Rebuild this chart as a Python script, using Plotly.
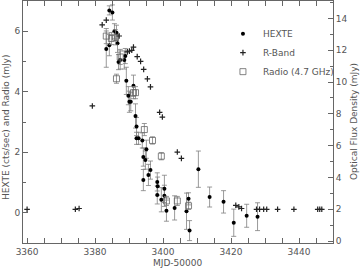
import plotly.graph_objects as go

# HEXTE count rate (left axis)
hexte_mjd = [3383.3, 3384.2, 3385.1, 3384.2, 3385.7, 3386.3, 3386.6, 3386.9, 3387.4, 3388.6,
             3388.9, 3389.2, 3389.8, 3390.1, 3390.5, 3391.3, 3391.9, 3392.2, 3392.2, 3392.8,
             3393.9, 3395.1, 3394.2, 3394.8, 3394.2, 3395.7, 3396.3, 3398.3, 3398.4, 3398.3,
             3399.5, 3400.4, 3400.4, 3401.0, 3403.4, 3406.9, 3407.5, 3407.8, 3410.4, 3413.7,
             3417.8, 3420.8, 3424.6, 3427.8]
hexte_rate = [5.41, 6.69, 6.62, 5.54, 6.00, 5.95, 5.60, 4.98, 5.05, 5.05,
              5.18, 4.36, 3.87, 3.67, 3.67, 4.20, 3.20, 2.85, 2.46, 2.46,
              2.39, 2.10, 1.84, 1.74, 1.08, 1.25, 1.41, 1.02, 0.88, 0.59,
              0.43, 0.79, 0.56, 0.07, 0.16, 0.05, 0.46, -0.59, 1.44, 0.52,
              0.36, -0.33, -0.10, -0.13]
hexte_err = [0.60, 0.15, 0.25, 0.35, 0.25, 0.25, 0.30, 0.25, 0.30, 0.30,
             0.25, 0.45, 0.30, 0.35, 0.30, 0.35, 0.40, 0.30, 0.20, 0.20,
             0.25, 0.30, 0.30, 0.30, 0.35, 0.35, 0.30, 0.30, 0.30, 0.30,
             0.40, 0.45, 0.35, 0.35, 0.40, 0.60, 0.20, 0.33, 0.60, 0.33,
             0.37, 0.45, 0.38, 0.46]

# Radio 4.7 GHz flux (left axis)
radio_mjd = [3383.3, 3384.8, 3386.0, 3386.3, 3387.4, 3391.3, 3391.9, 3394.5, 3396.9,
             3399.5, 3401.0, 3404.2, 3407.5]
radio_flux = [5.84, 5.76, 5.80, 4.43, 5.15, 3.97, 3.97, 2.75, 2.39,
              1.87, 0.39, 0.39, 0.23]
radio_err = [0.25, 0.20, 0.25, 0.15, 0.25, 0.20, 0.20, 0.20, 0.12,
             0.12, 0.15, 0.15, 0.12]

# R-band optical flux density (right axis)
rband_mjd = [3360.0, 3374.2, 3375.3, 3379.2, 3382.1, 3383.3, 3387.1, 3389.5, 3390.1, 3390.8,
             3391.3, 3392.4, 3393.4, 3394.3, 3395.4, 3396.3, 3399.0, 3399.8, 3404.2, 3405.4,
             3421.4, 3422.3, 3423.1, 3427.5, 3428.4, 3429.6, 3430.5, 3433.7, 3438.5, 3445.5,
             3446.1, 3446.7]
rband_flux = [2.0, 2.0, 2.05, 8.5, 13.6, 13.9, 12.9, 11.9, 11.95, 12.0,
              12.2, 11.6, 11.3, 10.8, 10.2, 9.7, 8.1, 7.8, 5.6, 5.2,
              2.25, 2.15, 2.05, 2.0, 2.0, 2.0, 2.0, 2.0, 2.0, 2.0,
              2.0, 2.0]

AX = '#666666'
TXT = '#555555'
FONT = 'DejaVu Sans'

fig = go.Figure()
fig.add_trace(go.Scatter(
    x=hexte_mjd, y=hexte_rate, mode='markers', name='HEXTE',
    marker=dict(symbol='circle', size=4, color='black'),
    error_y=dict(type='data', array=hexte_err, color='#808080', thickness=0.8, width=2.5)))
fig.add_trace(go.Scatter(
    x=rband_mjd, y=rband_flux, mode='markers', name='R-Band', yaxis='y2',
    marker=dict(symbol='cross-thin', size=4, color='#222222',
                line=dict(width=1.2, color='#222222'))))
fig.add_trace(go.Scatter(
    x=radio_mjd, y=radio_flux, mode='markers', name='Radio (4.7 GHz)',
    marker=dict(symbol='square-open', size=6, color='#666666', line=dict(width=0.8)),
    error_y=dict(type='data', array=radio_err, color='#808080', thickness=0.8, width=2.5)))

tickfont = dict(family=FONT, size=9, color=TXT)
common = dict(showline=True, linecolor=AX, linewidth=1, ticks='inside', tickcolor=AX,
              ticklen=5, tickwidth=1, showgrid=False, zeroline=False, tickfont=tickfont)

fig.update_layout(
    width=360, height=268,
    margin=dict(l=23, r=27, t=1, b=25),
    paper_bgcolor='white', plot_bgcolor='white',
    font=dict(family=FONT, size=9, color=TXT),
    xaxis=dict(range=[3358.8, 3450.0], tick0=3360, dtick=20, mirror='allticks',
               minor=dict(dtick=5, ticks='inside', ticklen=3, tickcolor=AX), **common),
    yaxis=dict(range=[-1, 7], tick0=0, dtick=2,
               minor=dict(dtick=1, ticks='inside', ticklen=3, tickcolor=AX), **common),
    yaxis2=dict(range=[-0.12, 15.1], tick0=0, dtick=2, overlaying='y', side='right',
                minor=dict(dtick=1, ticks='inside', ticklen=3, tickcolor=AX), **common),
    legend=dict(x=0.645, y=0.925, xanchor='left', yanchor='top', bgcolor='rgba(0,0,0,0)',
                font=dict(family=FONT, size=9, color=TXT), itemwidth=30, tracegroupgap=0),
    showlegend=True,
    annotations=[
        dict(text='MJD-50000', xref='paper', yref='paper', x=0.5, y=-0.083,
             xanchor='center', yanchor='middle', showarrow=False,
             font=dict(family=FONT, size=9, color=TXT)),
        dict(text='HEXTE (cts/sec) and Radio (mJy)', xref='paper', yref='paper',
             x=-0.055, y=0.479, xanchor='center', yanchor='middle', textangle=-90,
             showarrow=False, font=dict(family=FONT, size=9, color=TXT)),
        dict(text='Optical Flux Density (mJy)', xref='paper', yref='paper',
             x=1.068, y=0.5, xanchor='center', yanchor='middle', textangle=-90,
             showarrow=False, font=dict(family=FONT, size=9, color=TXT)),
    ],
)

fig.write_html('out.html')
